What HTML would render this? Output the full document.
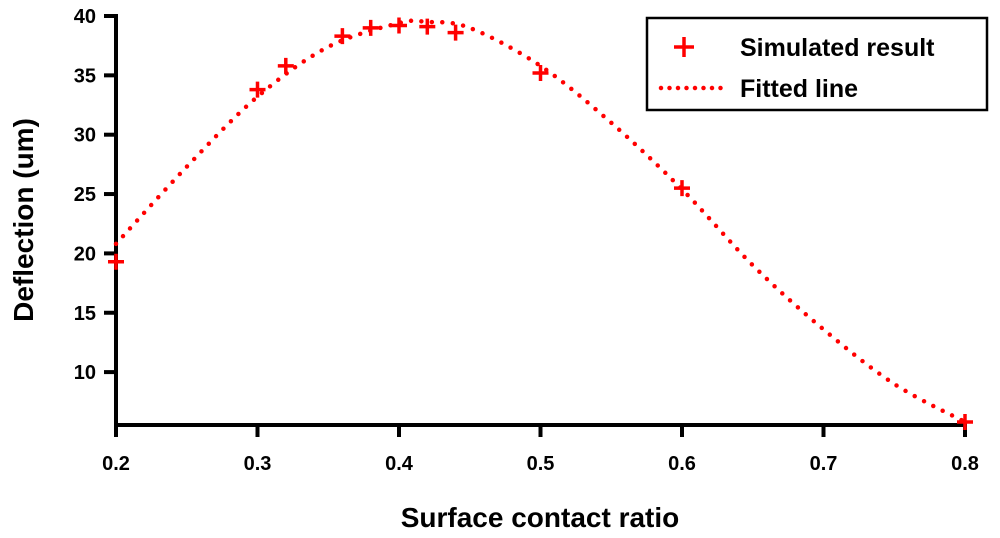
<!DOCTYPE html>
<html><head><meta charset="utf-8"><style>
body{margin:0;background:#fff;}
svg text{font-family:"Liberation Sans",Arial,sans-serif;font-weight:bold;fill:#000;}
</style></head><body>
<svg id="chart" width="1000" height="533" viewBox="0 0 1000 533" xmlns="http://www.w3.org/2000/svg">
<g id="plot"></g>
</svg>
<script>
const simX = [0.2,0.3,0.32,0.36,0.38,0.4,0.42,0.44,0.5,0.6,0.8];
const simY = [19.3,33.8,35.8,38.3,39.0,39.2,39.1,38.6,35.2,25.5,5.8];
const fitX = [0.2,0.25,0.3,0.35,0.4,0.42,0.45,0.5,0.55,0.6,0.65,0.7,0.75,0.8];
const fitY = [20.8,27.3,33.2,37.4,39.4,39.5,39.0,35.8,31.0,25.4,19.0,13.6,9.0,5.8];
const xTicks = [0.2,0.3,0.4,0.5,0.6,0.7,0.8];
const yTicks = [10,15,20,25,30,35,40];

const NS="http://www.w3.org/2000/svg";
const g=document.getElementById('plot');
const sx=v=>116+(v-0.2)/0.6*849;
const sy=v=>16+(40-v)*11.87;
function mk(t,a){const e=document.createElementNS(NS,t);for(const k in a)e.setAttribute(k,a[k]);g.appendChild(e);return e;}

// axes
const ax=mk('path',{d:'M116,14V425H967',fill:'none',stroke:'#000','stroke-width':4});


xTicks.forEach(v=>{
  const x=sx(v);
  const t=mk('line',{x1:x,x2:x,y1:425,y2:437,stroke:'#000','stroke-width':4});
  
  
  const l=mk('text',{x:x,y:470,'text-anchor':'middle','font-size':20});
  l.textContent=v.toFixed(1);
  
  
});
yTicks.forEach(v=>{
  const y=sy(v);
  const t=mk('line',{x1:104,x2:116,y1:y,y2:y,stroke:'#000','stroke-width':4});
  
  
  const l=mk('text',{x:96,y:y+7,'text-anchor':'end','font-size':20});
  l.textContent=v;
  
  
});

// fitted line (smooth Catmull-Rom)
const P=fitX.map((x,i)=>[sx(x),sy(fitY[i])]);
let d='M'+P[0][0].toFixed(1)+','+P[0][1].toFixed(1);
for(let i=0;i<P.length-1;i++){
  const p0=P[Math.max(i-1,0)],p1=P[i],p2=P[i+1],p3=P[Math.min(i+2,P.length-1)];
  const c1=[p1[0]+(p2[0]-p0[0])/6,p1[1]+(p2[1]-p0[1])/6];
  const c2=[p2[0]-(p3[0]-p1[0])/6,p2[1]-(p3[1]-p1[1])/6];
  d+='C'+c1.map(n=>n.toFixed(1)).join(',')+' '+c2.map(n=>n.toFixed(1)).join(',')+' '+p2[0].toFixed(1)+','+p2[1].toFixed(1);
}
const fl=mk('path',{d:d,fill:'none',stroke:'#f00','stroke-width':4.5,'stroke-linecap':'round','stroke-dasharray':'0 10.5'});



// simulated points
simX.forEach((x,i)=>{
  const cx=sx(x),cy=sy(simY[i]);
  const p=mk('path',{d:`M${cx-8},${cy}H${cx+8}M${cx},${cy-8}V${cy+8}`,stroke:'#f00','stroke-width':3.5});
  
  
});

const xt=mk('text',{x:540,y:527,'text-anchor':'middle','font-size':28});
xt.textContent='Surface contact ratio';


const yt=mk('text',{x:0,y:0,'text-anchor':'middle','font-size':28,transform:'translate(33,220) rotate(-90)'});
yt.textContent='Deflection (um)';



// legend
const lb=mk('rect',{x:647,y:18,width:340,height:92,fill:'#fff',stroke:'#000','stroke-width':2.5});


const lp=mk('path',{d:'M674,47H694M684,37V57',stroke:'#f00','stroke-width':3.5});


const l1=mk('text',{x:740,y:56,'font-size':25});
l1.textContent='Simulated result';


const ll=mk('path',{d:'M661,88H722',stroke:'#f00','stroke-width':4.5,'stroke-linecap':'round','stroke-dasharray':'0 8.5'});


const l2=mk('text',{x:740,y:97,'font-size':25});
l2.textContent='Fitted line';


</script>
</body></html>
